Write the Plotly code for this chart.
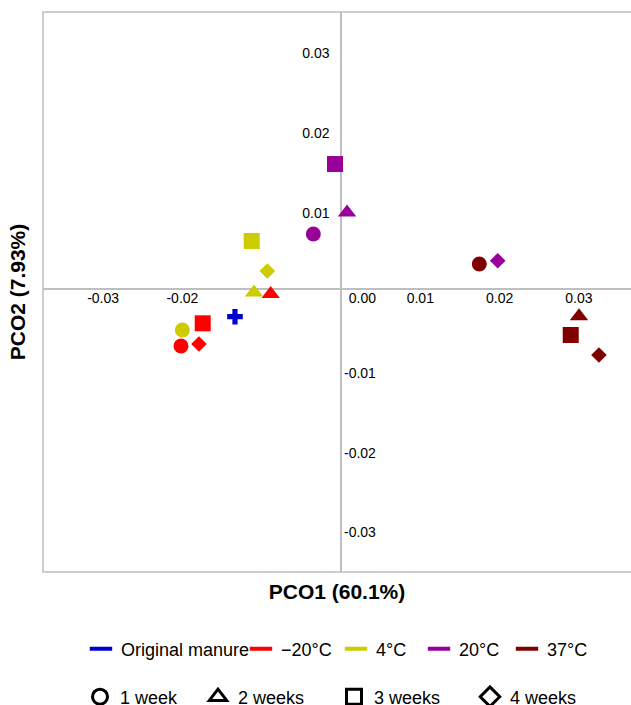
import plotly.graph_objects as go

# ---------------- data ----------------
groups = ["Original manure", "\u221220\u00b0C", "4\u00b0C", "20\u00b0C", "37\u00b0C"]
weeks = ["1 week", "2 weeks", "3 weeks", "4 weeks"]

point_group = ["Original manure",
               "\u221220\u00b0C", "\u221220\u00b0C", "\u221220\u00b0C", "\u221220\u00b0C",
               "4\u00b0C", "4\u00b0C", "4\u00b0C", "4\u00b0C",
               "20\u00b0C", "20\u00b0C", "20\u00b0C", "20\u00b0C",
               "37\u00b0C", "37\u00b0C", "37\u00b0C", "37\u00b0C"]
point_week = ["0",
              "1 week", "2 weeks", "3 weeks", "4 weeks",
              "1 week", "2 weeks", "3 weeks", "4 weeks",
              "1 week", "2 weeks", "3 weeks", "4 weeks",
              "1 week", "2 weeks", "3 weeks", "4 weeks"]
pco1 = [-0.01337,
        -0.02018, -0.00887, -0.01744, -0.01791,
        -0.02001, -0.01097, -0.01126, -0.00929,
        -0.00349, 0.00076, -0.00076, 0.01976,
        0.01744, 0.03001, 0.02897, 0.03253]
pco2 = [-0.00347,
        -0.00714, -0.00063, -0.00430, -0.00689,
        -0.00514, -0.00044, 0.00602, 0.00226,
        0.00689, 0.00959, 0.01566, 0.00355,
        0.00313, -0.00342, -0.00576, -0.00827]

x_tickvals = [-0.03, -0.02, 0.0027, 0.01, 0.02, 0.03]
x_ticktext = ["-0.03", "-0.02", "0.00", "0.01", "0.02", "0.03"]
y_pos_ticks = [0.01, 0.02, 0.03]
y_neg_ticks = [-0.01, -0.02, -0.03]

x_title = "PCO1 (60.1%)"
y_title = "PCO2 (7.93%)"

# ---------------- style ----------------
colors = {"Original manure": "#0000CC", "\u221220\u00b0C": "#FF0000", "4\u00b0C": "#CCCC00",
          "20\u00b0C": "#990099", "37\u00b0C": "#800000"}
symbols = {"0": "cross", "1 week": "circle", "2 weeks": "triangle-up",
           "3 weeks": "square", "4 weeks": "diamond"}
sizes = {"0": 13, "1 week": 15, "2 weeks": 16, "3 weeks": 16, "4 weeks": 12}
open_symbols = {"1 week": "circle-open", "2 weeks": "triangle-up-open",
                "3 weeks": "square-open", "4 weeks": "diamond-open"}
leg1_widths = [115, 50, 38, 43, 45]
leg2_widths = [73, 91, 91, 70]

FONT = "Arial, Liberation Sans, sans-serif"
GRAY = "#BFBFBF"

xr = [-0.03758, 0.03657]
yr = [-0.03546, 0.03471]
xpos = (0 - xr[0]) / (xr[1] - xr[0])
ypos = (0 - yr[0]) / (yr[1] - yr[0])

fig = go.Figure()

for g in groups:
    idx = [i for i, pg in enumerate(point_group) if pg == g]
    fig.add_trace(go.Scatter(
        x=[pco1[i] for i in idx], y=[pco2[i] for i in idx],
        mode="markers", showlegend=False, name=g,
        marker=dict(color=colors[g], opacity=1,
                    symbol=[symbols[point_week[i]] for i in idx],
                    size=[sizes[point_week[i]] for i in idx],
                    line=dict(width=0)),
        xaxis="x", yaxis="y", cliponaxis=False))

# legend row 1 (colours)
for g, w in zip(groups, leg1_widths):
    fig.add_trace(go.Scatter(
        x=[None], y=[None], mode="markers", name=g, legend="legend",
        legendwidth=w,
        marker=dict(symbol="line-ew", size=16, color=colors[g], opacity=1,
                    line=dict(width=4, color=colors[g])),
        xaxis="x2", yaxis="y2"))

# legend row 2 (shapes)
for wk, w in zip(weeks, leg2_widths):
    fig.add_trace(go.Scatter(
        x=[None], y=[None], mode="markers", name=wk, legend="legend2",
        legendwidth=w,
        marker=dict(symbol=open_symbols[wk], size=15, color="black", opacity=1,
                    line=dict(width=3, color="black")),
        xaxis="x", yaxis="y3"))

tickfont = dict(family=FONT, size=14, color="black")
titlefont = dict(family=FONT, size=21, color="black", weight="bold")

fig.update_layout(
    width=631, height=705,
    margin=dict(l=43, r=0, t=12, b=133, pad=0),
    paper_bgcolor="white", plot_bgcolor="white",
    font=dict(family=FONT, color="black"),
    xaxis=dict(range=xr, anchor="free", position=ypos, side="bottom",
               showgrid=False, zeroline=False, showline=True, linecolor=GRAY,
               linewidth=1.5, ticks="", tickvals=x_tickvals, ticktext=x_ticktext,
               tickfont=tickfont, layer="below traces", ticklabelstandoff=-4),
    xaxis2=dict(range=xr, overlaying="x", anchor="y", side="bottom",
                showgrid=False, zeroline=False, showline=False, ticks="",
                showticklabels=False,
                title=dict(text=x_title, font=titlefont, standoff=12)),
    yaxis=dict(range=yr, anchor="free", position=xpos, side="left",
               showgrid=False, zeroline=False, showline=True, linecolor=GRAY,
               linewidth=1.5, ticks="", tickvals=y_pos_ticks,
               ticktext=[f"{v:.2f}" for v in y_pos_ticks],
               tickfont=tickfont, layer="below traces", ticklabelshift=4,
               ticklabelstandoff=8),
    yaxis2=dict(range=yr, overlaying="y", anchor="x2", side="left",
                showgrid=False, zeroline=False, showline=False, ticks="",
                showticklabels=False,
                title=dict(text=y_title, font=titlefont, standoff=10)),
    yaxis3=dict(range=yr, overlaying="y", anchor="free", position=xpos, side="right",
                showgrid=False, zeroline=False, showline=False, ticks="",
                tickvals=y_neg_ticks, ticktext=[f"{v:.2f}" for v in y_neg_ticks],
                tickfont=tickfont, ticklabelshift=4, ticklabelstandoff=2),
    legend=dict(orientation="h", xref="container", yref="container",
                x=81 / 631, xanchor="left", y=(705 - 649) / 705, yanchor="middle",
                font=dict(family=FONT, size=18, color="black"),
                bgcolor="rgba(0,0,0,0)", borderwidth=0, itemwidth=30),
    legend2=dict(orientation="h", xref="container", yref="container",
                 x=80 / 631, xanchor="left", y=(705 - 697) / 705, yanchor="middle",
                 font=dict(family=FONT, size=18, color="black"),
                 bgcolor="rgba(0,0,0,0)", borderwidth=0, itemwidth=30),
    shapes=[dict(type="rect", xref="paper", yref="paper", x0=0, x1=1.05, y0=0, y1=1,
                 line=dict(color=GRAY, width=1.5), layer="below")],
)

fig.write_html("out.html")
